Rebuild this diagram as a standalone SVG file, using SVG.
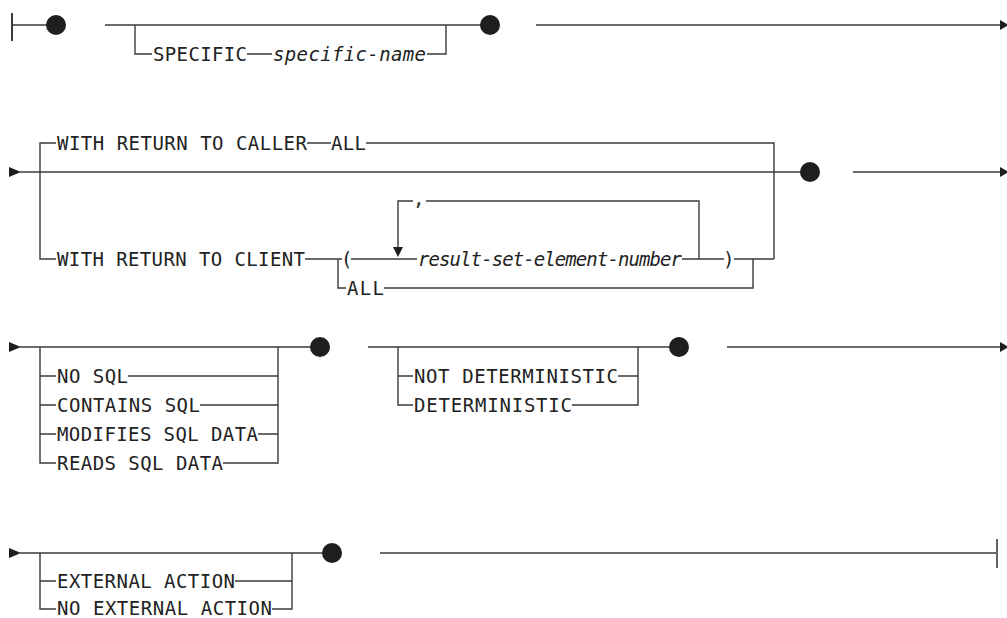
<svg xmlns="http://www.w3.org/2000/svg" width="1007" height="618" viewBox="0 0 1007 618">
<style>
.ln{stroke:#3a3a3a;stroke-width:1.4;fill:none}
.bar{stroke:#3a3a3a;stroke-width:2;fill:none}
.ah{fill:#1e1e1e}
.dot{fill:#1e1e1e}
.t{font-family:"DejaVu Sans Mono","Liberation Mono",monospace;font-size:19px;fill:#222}
.i{font-style:italic}
</style>
<rect width="1007" height="618" fill="#fff"/>
<g id="connectors">
  <!-- row 1 -->
  <path class="bar" d="M12,13V41"/>
  <path class="ln" d="M12,25H50"/>
  <path class="ln" d="M105,25H484"/>
  <path class="ln" d="M135,25V54H152M247,54H272M427,54H446V25"/>
  <path class="ln" d="M536,25H1002"/>
  <polygon class="ah" points="1000,20 1009,25 1000,30"/>
  <!-- row 2 -->
  <polygon class="ah" points="9,167 21,172 9,177"/>
  <path class="ln" d="M20,172H804"/>
  <path class="ln" d="M40,172V143H56M307,143H331M366,143H774V259"/>
  <path class="ln" d="M40,172V259H56M305,259H342M351,259H417M682,259H724M734,259H774"/>
  <path class="ln" d="M338,259V288H346M384,288H753V259"/>
  <path class="ln" d="M398,248V201H413M426,201H699V259"/>
  <polygon class="ah" points="393,247 403,247 398,257"/>
  <path class="ln" d="M853,172H1002"/>
  <polygon class="ah" points="1000,167 1009,172 1000,177"/>
  <!-- row 3 -->
  <polygon class="ah" points="9,342 21,347 9,352"/>
  <path class="ln" d="M20,347H314"/>
  <path class="ln" d="M40,347V463H56M128,376H278M200,405H278M258,434H278M223,463H278V347"/>
  <path class="ln" d="M40,376H56M40,405H56M40,434H56"/>
  <path class="ln" d="M368,347H673"/>
  <path class="ln" d="M398,347V405H413M618,376H638M572,405H638V347M398,376H413"/>
  <path class="ln" d="M727,347H1002"/>
  <polygon class="ah" points="1000,342 1009,347 1000,352"/>
  <!-- row 4 -->
  <polygon class="ah" points="9,548 21,553 9,558"/>
  <path class="ln" d="M20,553H326"/>
  <path class="ln" d="M40,553V609H56M40,581H56M235,581H292M272,609H292V553"/>
  <path class="ln" d="M380,553H997"/>
  <path class="bar" d="M997,539V568" style="stroke:#666"/>
</g>
<g id="start"><circle class="dot" cx="56" cy="25" r="10"/></g>
<g id="specific">
  <text class="t" x="153" y="61" textLength="94" lengthAdjust="spacing">SPECIFIC</text>
  <text class="t i" x="273" y="61" textLength="153" lengthAdjust="spacing">specific-name</text>
</g>
<g id="dot1"><circle class="dot" cx="490" cy="25" r="10"/></g>
<g id="caller">
  <text class="t" x="57" y="150" textLength="250" lengthAdjust="spacing">WITH RETURN TO CALLER</text>
  <text class="t" x="331" y="150" textLength="35" lengthAdjust="spacing">ALL</text>
</g>
<g id="client">
  <text class="t" x="57" y="266" textLength="248" lengthAdjust="spacing">WITH RETURN TO CLIENT</text>
  <text class="t" x="341" y="266">(</text>
  <text class="t" x="413" y="205">,</text>
  <text class="t i" x="418" y="266" textLength="264" lengthAdjust="spacing">result-set-element-number</text>
  <text class="t" x="723" y="266">)</text>
  <text class="t" x="347" y="295" textLength="37" lengthAdjust="spacing">ALL</text>
</g>
<g id="dot2"><circle class="dot" cx="810" cy="172" r="10"/></g>
<g id="sqlaccess">
  <text class="t" x="57" y="383" textLength="71" lengthAdjust="spacing">NO SQL</text>
  <text class="t" x="57" y="412" textLength="143" lengthAdjust="spacing">CONTAINS SQL</text>
  <text class="t" x="57" y="441" textLength="201" lengthAdjust="spacing">MODIFIES SQL DATA</text>
  <text class="t" x="57" y="470" textLength="166" lengthAdjust="spacing">READS SQL DATA</text>
</g>
<g id="dot3"><circle class="dot" cx="320" cy="347" r="10"/></g>
<g id="determinism">
  <text class="t" x="414" y="383" textLength="204" lengthAdjust="spacing">NOT DETERMINISTIC</text>
  <text class="t" x="414" y="412" textLength="158" lengthAdjust="spacing">DETERMINISTIC</text>
</g>
<g id="dot4"><circle class="dot" cx="679" cy="347" r="10"/></g>
<g id="action">
  <text class="t" x="57" y="588" textLength="178" lengthAdjust="spacing">EXTERNAL ACTION</text>
  <text class="t" x="57" y="615" textLength="215" lengthAdjust="spacing">NO EXTERNAL ACTION</text>
</g>
<g id="dot5"><circle class="dot" cx="332" cy="553" r="10"/></g>
</svg>
